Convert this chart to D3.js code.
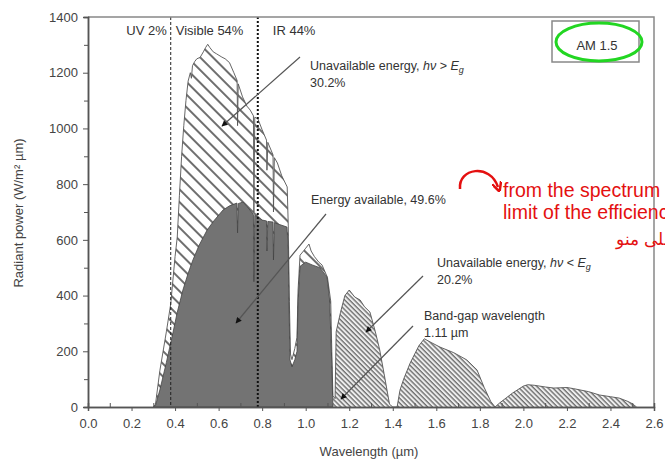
<!DOCTYPE html>
<html>
<head>
<meta charset="utf-8">
<script src="https://cdn.jsdelivr.net/npm/d3@7"></script>
<style>
  body { margin: 0; background: #fff; }
  text { font-family: "Liberation Sans", Arial, sans-serif; }
</style>
</head>
<body>
<div id="container"></div>
<script>
/* DATA */
// total spectrum (upper envelope), AM 1.5
const totalWl = [0.30,0.31,0.33,0.36,0.38,0.40,0.41,0.42,0.43,0.44,0.45,0.46,0.47,0.475,0.48,0.49,0.50,0.515,0.53,0.54,0.55,0.56,0.575,0.59,0.615,0.63,0.65,0.67,0.685,0.687,0.69,0.71,0.73,0.745,0.76,0.762,0.766,0.78,0.80,0.82,0.822,0.826,0.85,0.852,0.856,0.87,0.89,0.915,0.92,0.925,0.93,0.937,0.95,0.96,0.965,0.974,0.99,1.00,1.015,1.025,1.04,1.06,1.075,1.10,1.115,1.12,1.125,1.135,1.14,1.16,1.18,1.20,1.225,1.25,1.27,1.295,1.32,1.34,1.36,1.385,1.40,1.42,1.433,1.45,1.48,1.52,1.545,1.58,1.617,1.68,1.74,1.787,1.82,1.85,1.87,1.89,1.95,2.00,2.02,2.05,2.10,2.14,2.20,2.23,2.30,2.35,2.40,2.44,2.48,2.50,2.52];
const totalP  = [0,10,130,270,370,540,610,760,900,1010,1100,1170,1200,1180,1225,1240,1250,1255,1275,1290,1302,1290,1275,1268,1256,1250,1236,1200,1172,1010,1160,1113,1080,1066,1045,700,1040,1035,995,958,850,950,905,700,895,876,830,790,650,380,190,170,210,250,420,545,560,570,585,560,540,520,510,465,380,200,40,30,270,340,400,420,395,384,360,341,270,205,120,10,0,0,60,100,158,220,245,230,215,195,169,133,70,20,0,14,50,75,80,78,72,68,70,66,55,43,37,32,20,12,0];

// available energy (dark area), below band gap wavelength
const availWl = [0.30,0.31,0.33,0.36,0.39,0.41,0.436,0.46,0.482,0.51,0.547,0.58,0.62,0.65,0.684,0.687,0.69,0.712,0.73,0.744,0.76,0.762,0.766,0.78,0.80,0.82,0.822,0.826,0.85,0.852,0.856,0.88,0.914,0.92,0.923,0.928,0.937,0.95,0.96,0.965,0.974,1.00,1.03,1.065,1.098,1.11,1.12,1.125];
const availP  = [0,5,61,160,266,340,420,480,528,580,635,670,707,722,732,625,730,736,720,707,690,450,688,682,671,668,560,666,664,528,662,655,646,560,384,169,144,170,200,380,505,520,510,500,467,384,150,0];

const bandGap = 1.125;
const xTicks = [0.0,0.2,0.4,0.6,0.8,1.0,1.2,1.4,1.6,1.8,2.0,2.2,2.4,2.6];
const yTicks = [0,200,400,600,800,1000,1200,1400];
const regionLines = [0.38, 0.78];

/* CONSTANTS */
const width = 665, height = 460;
const plotLeft = 88, plotRight = 654, plotTop = 17, plotBottom = 407;

const svg = d3.select("#container").append("svg")
  .attr("width", width).attr("height", height);

const x = d3.scaleLinear().domain([0, 2.6]).range([plotLeft, plotRight]);
const y = d3.scaleLinear().domain([0, 1400]).range([plotBottom, plotTop]);

// patterns
const defs = svg.append("defs");
const wide = defs.append("pattern").attr("id", "wide")
  .attr("patternUnits", "userSpaceOnUse").attr("width", 9).attr("height", 9)
  .attr("patternTransform", "rotate(-45)");
wide.append("rect").attr("width", 9).attr("height", 9).attr("fill", "#fff");
wide.append("line").attr("x1", 2).attr("x2", 2).attr("y1", 0).attr("y2", 9)
  .attr("stroke", "#555").attr("stroke-width", 1.7);

const fine = defs.append("pattern").attr("id", "fine")
  .attr("patternUnits", "userSpaceOnUse").attr("width", 3.4).attr("height", 3.4)
  .attr("patternTransform", "rotate(-45)");
fine.append("rect").attr("width", 3.4).attr("height", 3.4).attr("fill", "#eee");
fine.append("line").attr("x1", 1).attr("x2", 1).attr("y1", 0).attr("y2", 3.4)
  .attr("stroke", "#666").attr("stroke-width", 1.3);

defs.append("marker").attr("id", "arrow")
  .attr("viewBox", "0 0 10 10").attr("refX", 9).attr("refY", 5)
  .attr("markerWidth", 7).attr("markerHeight", 5).attr("orient", "auto")
  .append("path").attr("d", "M0,0L10,5L0,10z").attr("fill", "#111");

defs.append("marker").attr("id", "redarrow")
  .attr("viewBox", "0 0 10 10").attr("refX", 5).attr("refY", 5)
  .attr("markerWidth", 4).attr("markerHeight", 4).attr("orient", "auto")
  .append("path").attr("d", "M0,0L10,5L0,10").attr("fill", "none")
  .attr("stroke", "#e41010").attr("stroke-width", 2.5);

// build point tables
const total = totalWl.map((w, i) => ({ w: w, p: totalP[i] }));
const avail = availWl.map((w, i) => ({ w: w, p: availP[i] }));

const area = d3.area().x(d => x(d.w)).y0(y(0)).y1(d => y(d.p));
const line = d3.line().x(d => x(d.w)).y(d => y(d.p));

// hatched areas
svg.append("path").datum(total.filter(d => d.w <= bandGap))
  .attr("d", area).attr("fill", "url(#wide)");
svg.append("path").datum(total.filter(d => d.w >= bandGap))
  .attr("d", area).attr("fill", "url(#fine)");
svg.append("path").datum(total)
  .attr("d", line).attr("fill", "none").attr("stroke", "#555").attr("stroke-width", 0.9);

// available energy
svg.append("path").datum(avail)
  .attr("d", area).attr("fill", "#737373")
  .attr("stroke", "#444").attr("stroke-width", 0.8);

// region lines
svg.append("line")
  .attr("x1", x(regionLines[0])).attr("x2", x(regionLines[0]))
  .attr("y1", y(1400)).attr("y2", y(0))
  .attr("stroke", "#222").attr("stroke-width", 1).attr("stroke-dasharray", "3,2");
svg.append("line")
  .attr("x1", x(regionLines[1])).attr("x2", x(regionLines[1]))
  .attr("y1", y(1400)).attr("y2", y(0))
  .attr("stroke", "#111").attr("stroke-width", 2).attr("stroke-dasharray", "2,2");

// frame
svg.append("path")
  .attr("d", `M${plotLeft},${plotTop}H${plotRight}V${plotBottom}`)
  .attr("fill", "none").attr("stroke", "#888").attr("stroke-width", 1.5);

// axes
svg.append("g").attr("transform", `translate(0,${plotBottom})`)
  .call(d3.axisBottom(x).tickValues(xTicks).tickFormat(d3.format(".1f")).tickSize(4).tickPadding(8));
svg.append("g").attr("transform", `translate(0,${plotBottom})`)
  .call(d3.axisBottom(x).tickValues(d3.range(0.1, 2.6, 0.2)).tickFormat("").tickSize(-4));
svg.append("g").attr("transform", `translate(${plotLeft},0)`)
  .call(d3.axisLeft(y).tickValues(yTicks).tickFormat(d3.format("d")).tickSize(5).tickPadding(5));
svg.append("g").attr("transform", `translate(${plotLeft},0)`)
  .call(d3.axisLeft(y).tickValues(d3.range(100, 1400, 200)).tickFormat("").tickSize(4));

svg.selectAll(".domain").attr("stroke", "#555").attr("stroke-width", 1.5);
svg.selectAll(".tick line").attr("stroke", "#555");
svg.selectAll(".tick text").attr("font-size", 13).attr("fill", "#444")
  .attr("font-family", '"Liberation Sans", Arial, sans-serif');

// axis titles
svg.append("text").attr("x", 369).attr("y", 456).attr("text-anchor", "middle")
  .attr("font-size", 13).attr("fill", "#444").text("Wavelength (µm)");
svg.append("text").attr("transform", "translate(23,213)rotate(-90)")
  .attr("text-anchor", "middle").attr("font-size", 13).attr("fill", "#444")
  .text("Radiant power (W/m² µm)");

// region labels
svg.append("text").attr("x", x(regionLines[0]) - 4).attr("y", 35).attr("text-anchor", "end")
  .attr("font-size", 13).attr("fill", "#333").text("UV 2%");
svg.append("text").attr("x", x(regionLines[0]) + 5).attr("y", 35)
  .attr("font-size", 13).attr("fill", "#333").text("Visible 54%");
svg.append("text").attr("x", x(regionLines[1]) + 15).attr("y", 35)
  .attr("font-size", 13).attr("fill", "#333").text("IR 44%");

// annotations
function label(xp, yp, parts, second) {
  const t = svg.append("text").attr("x", xp).attr("y", yp)
    .attr("font-size", 12.5).attr("fill", "#333");
  parts.forEach(p => {
    const s = t.append("tspan").text(p.t);
    if (p.i) s.attr("font-style", "italic");
    if (p.sub) s.attr("font-size", 9).attr("dy", 3);
  });
  if (second) {
    svg.append("text").attr("x", xp).attr("y", yp + 17)
      .attr("font-size", 12.5).attr("fill", "#333").text(second);
  }
}
function arrow(x1, y1, x2, y2) {
  svg.append("line").attr("x1", x1).attr("y1", y1).attr("x2", x2).attr("y2", y2)
    .attr("stroke", "#555").attr("stroke-width", 1.2).attr("marker-end", "url(#arrow)");
}

label(310, 70, [{t: "Unavailable energy, "}, {t: "hν", i: true}, {t: " > "}, {t: "E", i: true}, {t: "g", i: true, sub: true}], "30.2%");
arrow(300, 57, 222, 126);

label(311, 204, [{t: "Energy available, 49.6%"}]);
arrow(326, 214, 236, 323);

label(437, 267, [{t: "Unavailable energy,  "}, {t: "hν", i: true}, {t: " < "}, {t: "E", i: true}, {t: "g", i: true, sub: true}], "20.2%");
arrow(423, 276, 366, 332);

label(424, 320, [{t: "Band-gap wavelength"}], " 1.11 µm");
arrow(413, 326, 341, 399);

// AM 1.5 box
svg.append("rect").attr("x", 552).attr("y", 21).attr("width", 87).attr("height", 41)
  .attr("fill", "#fff").attr("stroke", "#888").attr("stroke-width", 1.5);
svg.append("text").attr("x", 597).attr("y", 50).attr("text-anchor", "middle")
  .attr("font-size", 13).attr("fill", "#333").text("AM 1.5");
svg.append("ellipse").attr("cx", 599).attr("cy", 42).attr("rx", 43).attr("ry", 19)
  .attr("fill", "none").attr("stroke", "#22d622").attr("stroke-width", 3);

// red overlay note
svg.append("path").attr("d", "M460,189 C458,168 490,163 498,187")
  .attr("fill", "none").attr("stroke", "#e41010").attr("stroke-width", 2.5)
  .attr("marker-end", "url(#redarrow)");
svg.append("text").attr("x", 503).attr("y", 197).attr("font-size", 19.5)
  .attr("font-family", "Roboto, sans-serif").attr("fill", "#e41010").text("from the spectrum");
svg.append("text").attr("x", 503).attr("y", 219).attr("font-size", 19.5)
  .attr("font-family", "Roboto, sans-serif").attr("fill", "#e41010").text("limit of the efficiency");
svg.append("text").attr("x", 674).attr("y", 245).attr("text-anchor", "end").attr("font-size", 17)
  .attr("font-family", '"Noto Sans", "DejaVu Sans", sans-serif').attr("fill", "#e41010")
  .text("على منو");
</script>
</body>
</html>
